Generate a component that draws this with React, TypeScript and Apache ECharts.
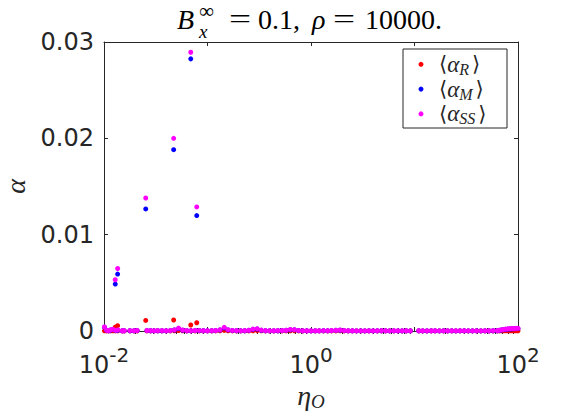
import React, { useEffect, useRef } from "react";
import * as echarts from "echarts";

// Large-amplitude runs (eta_O and the three averaged stresses)
const peakEta = [0.01285, 0.01355, 0.0253, 0.0471, 0.0689, 0.0787];
const peakR = [0.00041, 0.00055, 0.0011, 0.00114, 0.00062, 0.00086];
const peakM = [0.00487, 0.00591, 0.01267, 0.01882, 0.02825, 0.01198];
const peakSS = [0.00532, 0.00649, 0.01381, 0.02, 0.02894, 0.01288];

// Sweep of runs that stay close to zero
const bandEta = [
  0.0101, 0.0106, 0.0111, 0.0116, 0.0122, 0.0129, 0.0136,
  0.015, 0.0157,
  0.0178, 0.0195, 0.0209,
  0.026, 0.0282, 0.0305, 0.0331,
  0.0363, 0.0398, 0.0437, 0.0479, 0.0525, 0.0575, 0.0631, 0.0692, 0.0759, 0.0832,
  0.0912, 0.1, 0.11, 0.12, 0.132, 0.145, 0.158, 0.174, 0.191, 0.209,
  0.229, 0.251, 0.275, 0.302, 0.331, 0.363, 0.398, 0.437, 0.479, 0.525,
  0.575, 0.631, 0.692, 0.759, 0.832, 0.912, 1.0, 1.1, 1.2, 1.32,
  1.45, 1.58, 1.74, 1.91, 2.09, 2.29, 2.51, 2.75, 3.02, 3.31,
  3.63, 3.98, 4.37, 4.79, 5.25, 5.75, 6.31, 6.92, 7.59, 8.32,
  9.12, 11.0, 12.0, 13.2, 14.5, 15.8, 17.4, 19.1, 20.9, 22.9,
  25.1, 27.5, 30.2, 33.1, 36.3, 39.8, 43.7, 47.9, 52.5, 57.5,
  63.1, 66.1, 69.2, 72.4, 75.9, 79.4, 83.2, 87.1, 91.2, 95.5, 100,
];
const bandSS = [
  4.2e-4, 0.8e-4, 0.4e-4, 1.2e-4, 1.8e-4, 0.6e-4, 1.0e-4,
  0.3e-4, 0.3e-4,
  0.4e-4, 0.3e-4, 0.5e-4,
  0.5e-4, 0.4e-4, 0.3e-4, 0.4e-4,
  0.4e-4, 0.3e-4, 0.5e-4, 1.2e-4, 3.0e-4, 1.0e-4, 0.4e-4, 0.3e-4, 0.5e-4, 0.6e-4,
  0.4e-4, 0.3e-4, 0.4e-4, 0.5e-4, 1.2e-4, 3.8e-4, 1.4e-4, 0.6e-4, 0.4e-4, 0.3e-4,
  0.4e-4, 0.8e-4, 2.0e-4, 2.4e-4, 0.9e-4, 0.4e-4, 0.3e-4, 0.3e-4, 0.4e-4, 0.5e-4,
  0.8e-4, 1.6e-4, 1.4e-4, 0.6e-4, 0.3e-4, 0.3e-4, 0.2e-4, 0.3e-4, 0.3e-4, 0.4e-4,
  0.3e-4, 0.5e-4, 0.8e-4, 1.0e-4, 0.5e-4, 0.3e-4, 0.3e-4, 0.2e-4, 0.3e-4, 0.2e-4,
  0.3e-4, 0.2e-4, 0.3e-4, 0.4e-4, 0.3e-4, 0.2e-4, 0.3e-4, 0.2e-4, 0.2e-4, 0.3e-4,
  0.2e-4, 0.3e-4, 0.2e-4, 0.2e-4, 0.3e-4, 0.3e-4, 0.2e-4, 0.3e-4, 0.2e-4, 0.3e-4,
  0.2e-4, 0.3e-4, 0.3e-4, 0.2e-4, 0.2e-4, 0.3e-4, 0.2e-4, 0.3e-4, 0.3e-4, 0.4e-4,
  0.4e-4, 0.8e-4, 1.2e-4, 1.6e-4, 2.0e-4, 2.2e-4, 2.4e-4, 2.5e-4, 2.6e-4, 2.7e-4, 2.8e-4,
];
const bandR = [
  0.2e-4, 0.1e-4, 0.1e-4, 0.2e-4, 0.3e-4, 0.1e-4, 0.2e-4,
  0.1e-4, 0.1e-4,
  0.1e-4, 0.1e-4, 0.1e-4,
  0.1e-4, 0.1e-4, 0.1e-4, 0.1e-4,
  0.1e-4, 0.1e-4, 0.1e-4, 0.2e-4, 0.5e-4, 0.2e-4, 0.1e-4, 0.1e-4, 0.1e-4, 0.1e-4,
  0.1e-4, 0.1e-4, 0.1e-4, 0.1e-4, 0.2e-4, 0.6e-4, 0.3e-4, 0.1e-4, 0.1e-4, 0.1e-4,
  0.1e-4, 0.1e-4, 0.3e-4, 0.4e-4, 0.2e-4, 0.1e-4, 0.1e-4, 0.1e-4, 0.1e-4, 0.1e-4,
  0.1e-4, 0.3e-4, 0.2e-4, 0.1e-4, 0.1e-4, 0.1e-4, 0.1e-4, 0.1e-4, 0.1e-4, 0.1e-4,
  0.1e-4, 0.1e-4, 0.1e-4, 0.2e-4, 0.1e-4, 0.1e-4, 0.1e-4, 0.1e-4, 0.1e-4, 0.1e-4,
  0.1e-4, 0.1e-4, 0.1e-4, 0.1e-4, 0.1e-4, 0.1e-4, 0.1e-4, 0.1e-4, 0.1e-4, 0.1e-4,
  0.1e-4, 0.1e-4, 0.1e-4, 0.1e-4, 0.1e-4, 0.1e-4, 0.1e-4, 0.1e-4, 0.1e-4, 0.1e-4,
  0.1e-4, 0.1e-4, 0.1e-4, 0.1e-4, 0.1e-4, 0.1e-4, 0.1e-4, 0.1e-4, 0.1e-4, 0.1e-4,
  0.1e-4, 0.1e-4, 0.2e-4, 0.2e-4, 0.3e-4, 0.3e-4, 0.3e-4, 0.3e-4, 0.3e-4, 0.3e-4, 0.3e-4,
];
const bandM = [
  4.0e-4, 0.7e-4, 0.3e-4, 1.0e-4, 1.5e-4, 0.5e-4, 0.8e-4,
  0.2e-4, 0.2e-4,
  0.3e-4, 0.2e-4, 0.4e-4,
  0.4e-4, 0.3e-4, 0.2e-4, 0.3e-4,
  0.3e-4, 0.2e-4, 0.4e-4, 1.0e-4, 2.5e-4, 0.8e-4, 0.3e-4, 0.2e-4, 0.4e-4, 0.5e-4,
  0.3e-4, 0.2e-4, 0.3e-4, 0.4e-4, 1.0e-4, 3.2e-4, 1.1e-4, 0.5e-4, 0.3e-4, 0.2e-4,
  0.3e-4, 0.7e-4, 1.7e-4, 2.0e-4, 0.7e-4, 0.3e-4, 0.2e-4, 0.2e-4, 0.3e-4, 0.4e-4,
  0.7e-4, 1.3e-4, 1.2e-4, 0.5e-4, 0.2e-4, 0.2e-4, 0.1e-4, 0.2e-4, 0.2e-4, 0.3e-4,
  0.2e-4, 0.4e-4, 0.7e-4, 0.8e-4, 0.4e-4, 0.2e-4, 0.2e-4, 0.1e-4, 0.2e-4, 0.1e-4,
  0.2e-4, 0.1e-4, 0.2e-4, 0.3e-4, 0.2e-4, 0.1e-4, 0.2e-4, 0.1e-4, 0.1e-4, 0.2e-4,
  0.1e-4, 0.2e-4, 0.1e-4, 0.1e-4, 0.2e-4, 0.2e-4, 0.1e-4, 0.2e-4, 0.1e-4, 0.2e-4,
  0.1e-4, 0.2e-4, 0.2e-4, 0.1e-4, 0.1e-4, 0.2e-4, 0.1e-4, 0.2e-4, 0.2e-4, 0.3e-4,
  0.3e-4, 0.7e-4, 1.0e-4, 1.4e-4, 1.7e-4, 1.9e-4, 2.1e-4, 2.2e-4, 2.3e-4, 2.4e-4, 2.5e-4,
];

const yTicks = [0, 0.01, 0.02, 0.03];
const xDecadeLabels = [-2, 0, 2];

const seriesNames = ["\u27e8\u03b1R\u27e9", "\u27e8\u03b1M\u27e9", "\u27e8\u03b1SS\u27e9"];
const legendSubscripts = ["R", "M", "SS"];
const seriesColors = ["#ff0000", "#0000ff", "#ff00ff"];

const INK = "#262626";
const SERIF = "'Liberation Serif', 'DejaVu Serif', serif";
const SANS = "'DejaVu Sans', sans-serif";

// tick positions between decades (2..9 x 10^d), in exponent units
const minorExp: number[] = [];
for (let d = -2; d < 2; d++) {
  for (let k = 2; k <= 9; k++) minorExp.push(d + Math.log10(k));
}

const pairs = (xs: number[], ys: number[]) => xs.map((x, i) => [x, ys[i]]);

const titleText = (x: number, y: number, text: string, size: number, italic = false, scaleX = 1) => ({
  type: "text",
  x,
  y,
  scaleX,
  style: {
    text,
    fontSize: size,
    fontFamily: SERIF,
    fontStyle: italic ? "italic" : "normal",
    fill: "#000",
    align: "left",
    verticalAlign: "middle",
  },
});

// boxed key in the upper right of the plot
const LEGEND = { x: 403, y: 49, w: 104, h: 79, firstRow: 15.3, rowGap: 24.8, dotX: 18, textX: 36 };
const legendRich = {
  br: { fontSize: 21, fontFamily: SANS, fill: INK, lineHeight: 22 },
  brc: { fontSize: 21, fontFamily: SANS, fill: INK, lineHeight: 22, padding: [0, 0, 0, 3] },
  i: { fontSize: 23, fontFamily: SERIF, fontStyle: "italic", fill: INK, lineHeight: 22 },
  sub: { fontSize: 16, fontFamily: SERIF, fontStyle: "italic", fill: INK, lineHeight: 12, padding: [10, 0, 0, 0] },
};
const legendGraphic = {
  type: "group",
  x: LEGEND.x,
  y: LEGEND.y,
  z: 10,
  children: [
    {
      type: "rect",
      shape: { x: 0, y: 0, width: LEGEND.w, height: LEGEND.h },
      style: { fill: "#ffffff", stroke: INK, lineWidth: 1 },
    },
    ...seriesColors.flatMap((color, k) => {
      const cy = LEGEND.firstRow + k * LEGEND.rowGap;
      return [
        { type: "circle", shape: { cx: LEGEND.dotX, cy, r: 2.5 }, style: { fill: color } },
        {
          type: "text",
          x: LEGEND.textX,
          y: cy,
          style: {
            text: `{br|\u27e8}{i|\u03b1}{sub|${legendSubscripts[k]}}{brc|\u27e9}`,
            rich: legendRich,
            align: "left",
            verticalAlign: "middle",
          },
        },
      ];
    }),
  ],
};

export default function App() {
  const ref = useRef<HTMLDivElement>(null);

  useEffect(() => {
    const chart = echarts.init(ref.current!, null, { renderer: "svg" });
    const peaks = [peakR, peakM, peakSS];
    const bands = [bandR, bandM, bandSS];

    const logAxisBase = {
      type: "log",
      logBase: 10,
      min: 0.01,
      max: 100,
      splitNumber: 4,
      gridIndex: 0,
      splitLine: { show: false },
      minorTick: { show: false },
      axisLine: { show: true, onZero: false, lineStyle: { color: INK, width: 1 } },
      axisTick: { show: true, inside: true, length: 4, lineStyle: { color: INK, width: 1 } },
    };
    const minorAxisBase = {
      type: "value",
      min: -2,
      max: 2,
      gridIndex: 0,
      splitLine: { show: false },
      axisLine: { show: false },
      axisLabel: { show: false },
      axisTick: {
        show: true,
        inside: true,
        length: 3,
        customValues: minorExp,
        lineStyle: { color: INK, width: 1 },
      },
    };
    const yBase = {
      type: "value",
      min: 0,
      max: 0.03,
      interval: 0.01,
      splitLine: { show: false },
      axisLine: { show: true, onZero: false, lineStyle: { color: INK, width: 1 } },
      axisTick: { show: true, inside: true, length: 4, lineStyle: { color: INK, width: 1 } },
    };

    chart.setOption({
      animation: false,
      backgroundColor: "#ffffff",
      grid: { left: 104, right: 54, top: 42, bottom: 83, outerBoundsMode: "none" },
      xAxis: [
        {
          ...logAxisBase,
          position: "bottom",
          axisLabel: {
            show: true,
            interval: 0,
            margin: 14,
            color: INK,
            formatter: (v: number) => {
              const e = Math.round(Math.log10(v));
              return xDecadeLabels.includes(e) ? `{b|10}{sup|${e}}` : "";
            },
            rich: {
              b: { fontSize: 24, fontFamily: SANS, color: INK, lineHeight: 40, verticalAlign: "middle" },
              sup: { fontSize: 20, fontFamily: SANS, color: INK, lineHeight: 20, verticalAlign: "top" },
            },
          },
          name: "{i|\u03b7}{sub|O}",
          nameLocation: "middle",
          nameGap: 47,
          nameTextStyle: {
            rich: {
              i: { fontSize: 28, fontFamily: SERIF, fontStyle: "italic", color: INK, lineHeight: 30 },
              sub: { fontSize: 19, fontFamily: SERIF, fontStyle: "italic", color: INK, lineHeight: 20, verticalAlign: "bottom" },
            },
          },
        },
        { ...logAxisBase, position: "top", axisLabel: { show: false } },
        { ...minorAxisBase, position: "bottom" },
        { ...minorAxisBase, position: "top" },
      ],
      yAxis: [
        {
          ...yBase,
          position: "left",
          axisLabel: {
            show: true,
            margin: 10,
            color: INK,
            fontSize: 24,
            fontFamily: SANS,
            formatter: (v: number) => {
              const t = yTicks.find((y) => Math.abs(y - v) < 1e-9);
              return t === 0 ? "0" : (t ?? v).toFixed(2);
            },
          },
          name: "\u03b1",
          nameLocation: "middle",
          nameRotate: 90,
          nameGap: 72,
          nameTextStyle: { fontSize: 28, fontFamily: SERIF, fontStyle: "italic", color: INK },
        },
        { ...yBase, position: "right", axisLabel: { show: false } },
      ],
      series: seriesNames.map((name, idx) => ({
        name,
        type: "scatter",
        xAxisIndex: 0,
        yAxisIndex: 0,
        symbol: "circle",
        symbolSize: 5,
        clip: false,
        itemStyle: { color: seriesColors[idx], opacity: 1 },
        emphasis: { disabled: true },
        data: [...pairs(peakEta, peaks[idx]), ...pairs(bandEta, bands[idx])],
      })),
      graphic: [
        {
          type: "group",
          children: [
            titleText(177, 19, "B", 28, true),
            titleText(199, 10.5, "\u221e", 21),
            titleText(199, 31.5, "x", 19, true),
            titleText(229, 19, "=", 28, false, 1.4),
            titleText(258, 19, "0.1,", 28),
            titleText(312, 19, "\u03c1", 28, true),
            titleText(333, 19, "=", 28, false, 1.4),
            titleText(365, 19, "10000.", 28),
          ],
        },
        legendGraphic,
      ],
    });

    return () => chart.dispose();
  }, []);

  return (
    <div
      ref={ref}
      style={{ position: "absolute", left: 0, top: 0, width: 572, height: 414 }}
    />
  );
}
